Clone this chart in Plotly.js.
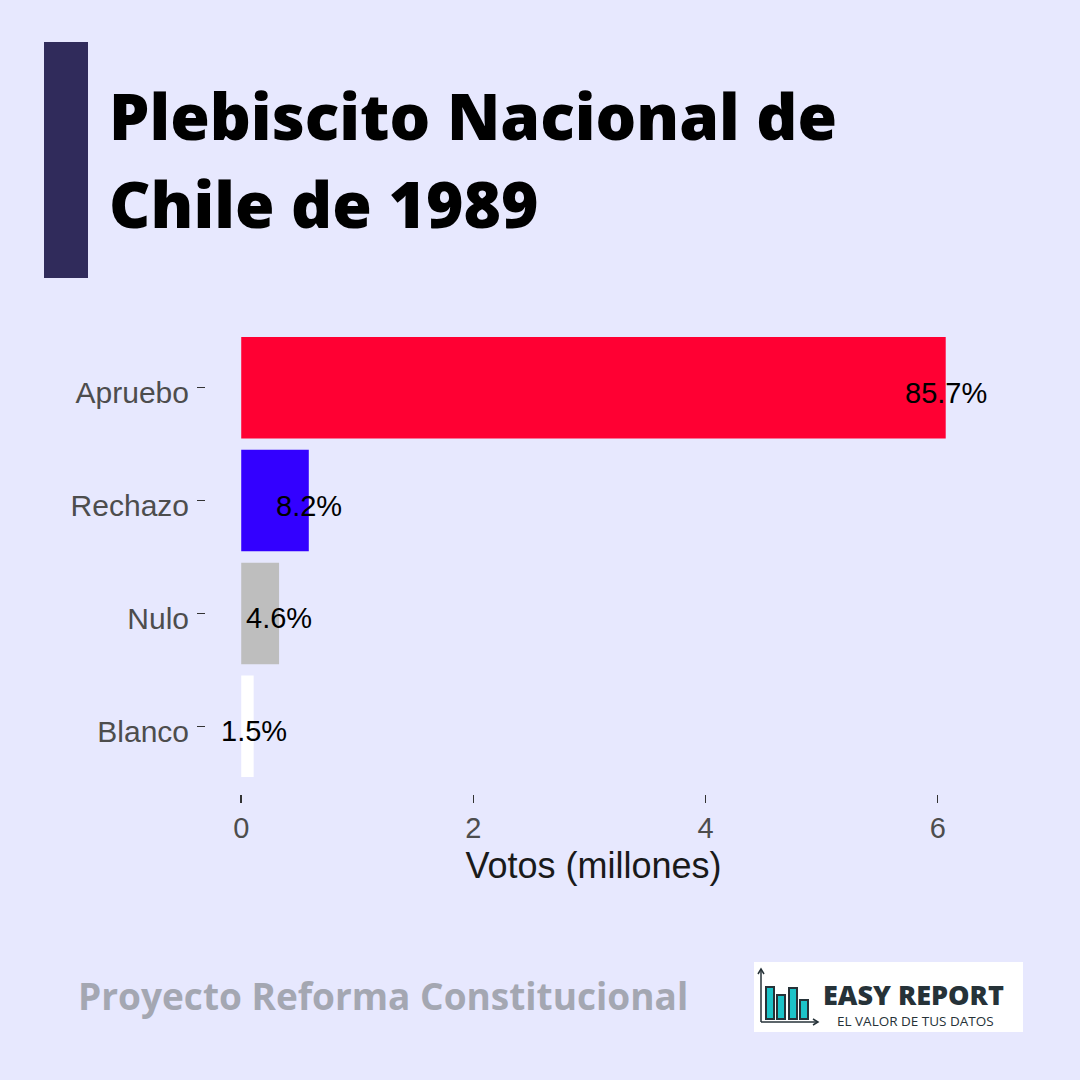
<!DOCTYPE html>
<html>
<head>
<meta charset="utf-8">
<script src="https://cdn.plot.ly/plotly-3.0.1.min.js"></script>
<style>
html,body{margin:0;padding:0;background:#E7E8FE;}
#chart{width:1080px;height:1080px;}
</style>
</head>
<body>
<div id="chart"></div>
<script>
// Data (votes in millions)
const categories = ['Apruebo', 'Rechazo', 'Nulo', 'Blanco'];
const votes = [6.069, 0.582, 0.326, 0.107];
const pctLabels = ['85.7%', '8.2%', '4.6%', '1.5%'];
const barColors = ['#FF0033', '#3300FF', '#BEBEBE', '#FFFFFF'];
const xTickVals = [0, 2, 4, 6];
const xTickText = ['0', '2', '4', '6'];

const titleLine1 = 'Plebiscito Nacional de';
const titleLine2 = 'Chile de 1989';
const xTitle = 'Votos (millones)';
const footerText = 'Proyecto Reforma Constitucional';
const logoTitle = 'EASY REPORT';
const logoSub = 'EL VALOR DE TUS DATOS';

const bg = '#E7E8FE';

// panel geometry in pixels (for paper-coordinate decorations)
const ML = 206, MR = 99, MT = 320, MB = 286;
const PW = 1080 - ML - MR, PH = 1080 - MT - MB;
const px = x => (x - ML) / PW;
const py = y => (1080 - MB - y) / PH;

const traces = [
  {
    type: 'bar',
    orientation: 'h',
    x: votes,
    y: categories,
    width: 0.9,
    marker: {color: barColors, line: {width: 0}},
    hoverinfo: 'skip',
    showlegend: false
  }
];

const iconTeal = '#1CC3C8';
const dark = '#263238';

// value labels centred on bar ends, positioned through the data axes
const valueLabels = categories.map((c, i) => ({
  xref: 'x', yref: 'y', x: votes[i], y: c,
  xanchor: 'center', yanchor: 'middle', showarrow: false,
  yshift: -5,
  text: pctLabels[i],
  font: {family: 'Liberation Sans, Arial, sans-serif', size: 29, color: '#000000'}
}));

const layout = {
  width: 1080,
  height: 1080,
  paper_bgcolor: bg,
  plot_bgcolor: bg,
  margin: {l: ML, r: MR, t: MT, b: MB, pad: 0},
  showlegend: false,
  font: {family: 'Liberation Sans, Arial, sans-serif'},
  xaxis: {
    range: [-0.3035, 6.373],
    tickvals: xTickVals,
    ticktext: xTickText,
    ticks: 'outside',
    ticklen: 8,
    tickwidth: 1.5,
    tickcolor: '#333333',
    showgrid: false,
    zeroline: false,
    showline: false,
    tickfont: {size: 29, color: '#4D4D4D', family: 'Liberation Sans, Arial, sans-serif'},
    title: {text: xTitle, font: {size: 36, color: '#1A1A1A', family: 'Liberation Sans, Arial, sans-serif'}, standoff: 10},
    fixedrange: true
  },
  yaxis: {
    type: 'category',
    categoryorder: 'array',
    categoryarray: categories,
    range: [3.6, -0.6],
    ticks: 'outside',
    ticklen: 8,
    tickwidth: 1.5,
    tickcolor: '#333333',
    ticklabelstandoff: 2,
    ticklabelshift: -5,
    showgrid: false,
    zeroline: false,
    showline: false,
    tickfont: {size: 30, color: '#4D4D4D', family: 'Liberation Sans, Arial, sans-serif'},
    fixedrange: true
  },
  shapes: [
    // left accent bar
    {type: 'rect', xref: 'paper', yref: 'paper', layer: 'above',
     x0: px(44), x1: px(88), y0: py(278), y1: py(42),
     fillcolor: '#302B5B', line: {width: 0}},
    // logo box
    {type: 'rect', xref: 'paper', yref: 'paper', layer: 'above',
     x0: px(754), x1: px(1023), y0: py(1032), y1: py(962),
     fillcolor: '#FFFFFF', line: {width: 0}},
    // icon bars
    ...[[766, 774, 987], [777, 785, 995], [789, 797, 988], [800, 808, 1000]].map(b => ({
      type: 'rect', xref: 'paper', yref: 'paper', layer: 'above',
      x0: px(b[0]), x1: px(b[1]), y0: py(1019), y1: py(b[2]),
      fillcolor: iconTeal, line: {width: 2, color: dark}
    })),
    // icon axes
    {type: 'line', xref: 'paper', yref: 'paper', layer: 'above',
     x0: px(761), x1: px(761), y0: py(1022), y1: py(970),
     line: {width: 1.5, color: dark}},
    {type: 'line', xref: 'paper', yref: 'paper', layer: 'above',
     x0: px(761), x1: px(817), y0: py(1022), y1: py(1022),
     line: {width: 1.5, color: dark}},
    {type: 'path', xref: 'paper', yref: 'paper', layer: 'above',
     path: 'M ' + px(758) + ' ' + py(974) + ' L ' + px(761) + ' ' + py(969) + ' L ' + px(764) + ' ' + py(974),
     line: {width: 1.5, color: dark}},
    {type: 'path', xref: 'paper', yref: 'paper', layer: 'above',
     path: 'M ' + px(813) + ' ' + py(1019) + ' L ' + px(818) + ' ' + py(1022) + ' L ' + px(813) + ' ' + py(1025),
     line: {width: 1.5, color: dark}}
  ],
  annotations: [
    ...valueLabels,
    {xref: 'paper', yref: 'paper', x: px(107), y: py(116),
     xanchor: 'left', yanchor: 'middle', align: 'left', showarrow: false,
     text: titleLine1,
     font: {family: 'Open Sans, sans-serif', size: 64, weight: 800, color: '#000000'}},
    {xref: 'paper', yref: 'paper', x: px(107), y: py(203),
     xanchor: 'left', yanchor: 'middle', align: 'left', showarrow: false,
     text: titleLine2,
     font: {family: 'Open Sans, sans-serif', size: 64, weight: 800, color: '#000000'}},
    {xref: 'paper', yref: 'paper', x: px(76), y: py(995),
     xanchor: 'left', yanchor: 'middle', showarrow: false,
     text: footerText,
     font: {family: 'Open Sans, sans-serif', size: 37, weight: 700, color: '#A4A7B2'}},
    {xref: 'paper', yref: 'paper', x: px(821), y: py(994),
     xanchor: 'left', yanchor: 'middle', showarrow: false,
     text: logoTitle,
     font: {family: 'Open Sans, sans-serif', size: 27, weight: 800, color: dark}},
    {xref: 'paper', yref: 'paper', x: px(915), y: py(1021),
     xanchor: 'center', yanchor: 'middle', showarrow: false,
     text: logoSub,
     font: {family: 'Open Sans, sans-serif', size: 13.5, color: dark}}
  ]
};

Plotly.newPlot('chart', traces, layout, {displayModeBar: false, staticPlot: true});
</script>
</body>
</html>
